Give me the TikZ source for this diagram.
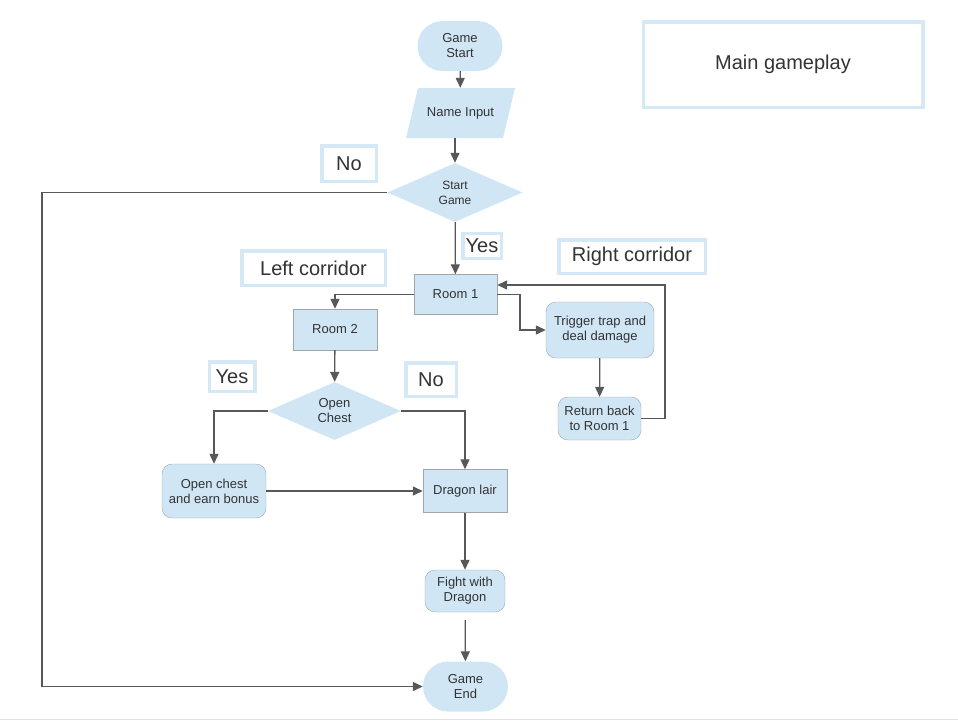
\documentclass[tikz,border=0pt]{standalone}
\usepackage{fontspec}
\setmainfont{Liberation Sans}
\usetikzlibrary{arrows.meta,positioning,calc,shapes.geometric}
\definecolor{boxblue}{RGB}{208,230,245}
\definecolor{tagblue}{RGB}{212,232,246}
\definecolor{boxline}{RGB}{160,166,172}
\definecolor{linegray}{RGB}{88,88,88}
\definecolor{txtgray}{RGB}{51,51,51}
\tikzset{
  term/.style={fill=boxblue, rounded corners=25pt, minimum width=85pt, minimum height=50pt,
               inner sep=0pt, align=center, font=\fontsize{13}{15}\selectfont, text=txtgray},
  proc/.style={draw=boxline, fill=boxblue, minimum width=83pt, minimum height=40pt,
               inner sep=0pt, align=center, font=\fontsize{13}{15}\selectfont, text=txtgray},
  act/.style={proc, rounded corners=10pt},
  dec/.style={diamond, fill=boxblue, inner sep=0pt, aspect=2.3, align=center,
              font=\fontsize{13}{15}\selectfont, text=txtgray},
  io/.style={minimum width=109pt, minimum height=50pt, inner sep=0pt,
             font=\fontsize{13}{15}\selectfont, text=txtgray,
             path picture={\fill[boxblue] (path picture bounding box.south west)
               -- ($(path picture bounding box.south east)+(-12pt,0)$)
               -- (path picture bounding box.north east)
               -- ($(path picture bounding box.north west)+(12pt,0)$) -- cycle;}},
  tag/.style={draw=tagblue, line width=3.5pt, fill=white, inner sep=0pt,
              font=\fontsize{20}{22}\selectfont, text=txtgray},
  flow/.style={-{Triangle[length=10pt,width=9pt]}, draw=linegray, line width=1.3pt}
}
\begin{document}
\begin{tikzpicture}[x=1pt,y=-1pt]
  \useasboundingbox (0,0) rectangle (958,721);
  \draw[black!12, line width=1pt] (0,719) -- (958,719);
  % main line
  \node[term] (gstart) at (460,46) {Game\\Start};
  \node[io] (name) at (460.5,113) {Name Input};
  \node[dec, minimum width=135pt, minimum height=59pt, font=\fontsize{12}{15}\selectfont] (sgame) at (455,192.5) {Start\\Game};
  \node[proc] (room1) at (455.5,294.5) {Room 1};
  % left corridor
  \node[proc, minimum width=84pt, minimum height=41pt] (room2) at (335,329.5) {Room 2};
  \node[dec, minimum width=133pt, minimum height=58pt] (chest) at (334.5,411) {Open\\Chest};
  \node[act, minimum width=104pt, minimum height=54pt] (bonus) at (214,491) {Open chest\\and earn bonus};
  \node[proc, minimum width=84pt, minimum height=43pt] (lair) at (465,491) {Dragon lair};
  \node[act, minimum width=80pt, minimum height=42pt] (fight) at (465,591) {Fight with\\Dragon};
  \node[term] (gend) at (465.5,686.5) {Game\\End};
  % right corridor
  \node[act, minimum width=108pt, minimum height=56pt] (trap) at (600,330) {Trigger trap and\\deal damage};
  \node[act, minimum width=83pt, minimum height=43pt] (back) at (599.5,418.5) {Return back\\to Room 1};
  % tags
  \node[tag, minimum width=279.5pt, minimum height=85.5pt] (title) at (783,64.5) {Main gameplay};
  \node[tag, minimum width=54.5pt, minimum height=35.5pt] (notop) at (349,163.5) {No};
  \node[tag, minimum width=38.5pt, minimum height=25pt] (yestop) at (482,246) {Yes};
  \node[tag, minimum width=143.5pt, minimum height=34.5pt] (lcorr) at (313.5,268) {Left corridor};
  \node[tag, minimum width=146.5pt, minimum height=33.5pt] (rcorr) at (632,256.5) {Right corridor};
  \node[tag, minimum width=45.5pt, minimum height=29.5pt] (yesleft) at (232,376.5) {Yes};
  \node[tag, minimum width=50.5pt, minimum height=33.5pt] (nomid) at (431,379.5) {No};
  \coordinate (nocorner) at (42,192.5);
  \coordinate (rjog) at (520,294.5);
  \coordinate (rloop) at (665,285);
  % connectors
  \draw[flow] (gstart) -- (name);
  \draw[flow] (name.south -| sgame.north) -- (sgame.north);
  \draw[flow] (sgame) -- (room1);
  \draw[flow] (sgame.west) -- (nocorner) |- (gend.west);
  \draw[flow] (room1.west) -| (room2.north);
  \draw[flow] (room2) -- (chest);
  \draw[flow] (chest.west) -| (bonus.north);
  \draw[flow] (chest.east) -| (lair.north);
  \draw[flow] (bonus) -- (lair);
  \draw[flow] (lair) -- (fight);
  \draw[flow, shorten <=8pt] (fight) -- (gend);
  \draw[flow] (room1.east) -- (rjog) |- (trap.west);
  \draw[flow] (trap) -- (back);
  \draw[flow] (back.east) -| (rloop) -- (room1.east |- rloop);
\end{tikzpicture}
\end{document}
